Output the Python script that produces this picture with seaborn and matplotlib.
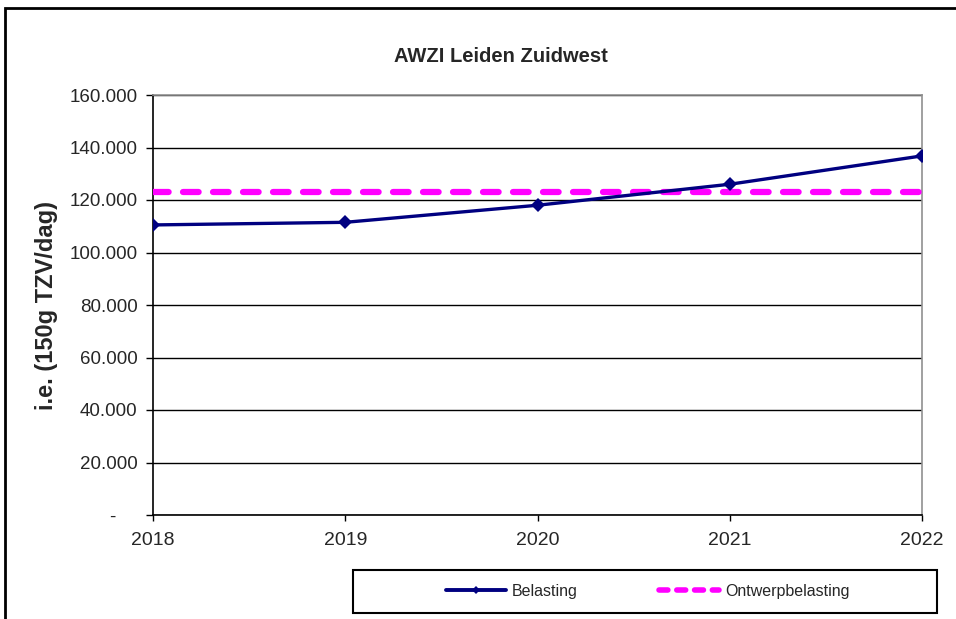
import matplotlib
matplotlib.use("Agg")
import matplotlib.pyplot as plt
import matplotlib.ticker as mticker
from matplotlib.patches import Rectangle
from matplotlib.lines import Line2D
import seaborn as sns
import pandas as pd

# data
jaren = [2018, 2019, 2020, 2021, 2022]
belasting = [110500, 111500, 118000, 126000, 136800]
ontwerpbelasting = [123000, 123000, 123000, 123000, 123000]

titel = "AWZI Leiden Zuidwest"
y_label = "i.e. (150g TZV/dag)"

sns.set_theme(style="white")
plt.rcParams['font.family'] = ['Liberation Sans', 'DejaVu Sans']

df = pd.DataFrame({"jaar": jaren, "Belasting": belasting, "Ontwerpbelasting": ontwerpbelasting})

fig = plt.figure(figsize=(9.56, 6.19), dpi=100)
ax = fig.add_axes([153 / 956, 1 - 515 / 619, (922 - 153) / 956, (515 - 95) / 619])

# ontwerp line (dashed magenta)
sns.lineplot(data=df, x="jaar", y="Ontwerpbelasting", ax=ax, color="#FF00FF",
             linewidth=4.5, dashes=False, zorder=3)
ax.lines[-1].set_dashes((2.5, 2.3))
ax.lines[-1].set_dash_capstyle("round")

# belasting line with diamonds
sns.lineplot(data=df, x="jaar", y="Belasting", ax=ax, color="#000080",
             linewidth=2.4, marker="D", markersize=7, markeredgewidth=0, zorder=4)

ax.set_xlim(2018, 2022)
ax.set_ylim(0, 160000)
ax.set_xticks(jaren)
ax.set_yticks(range(0, 160001, 20000))


def fmt(v, pos):
    # excel style: zero shown as a dash, a bit away from the axis
    if v == 0:
        return "-    "
    return f"{int(v):,}".replace(",", ".")


ax.yaxis.set_major_formatter(mticker.FuncFormatter(fmt))
ax.grid(axis="y", color="black", linewidth=1)
ax.set_axisbelow(True)

ax.spines["left"].set_color("black")
ax.spines["bottom"].set_color("black")
ax.spines["top"].set_color("#909090")
ax.spines["right"].set_color("#909090")
for s in ax.spines.values():
    s.set_linewidth(1.2)

ax.tick_params(axis="y", direction="out", length=5, width=1, color="black",
               labelsize=13.5, pad=6, left=True)
ax.tick_params(axis="x", direction="out", length=4, width=1, color="black",
               labelsize=14, pad=8, bottom=True)

ax.set_xlabel("")
ax.set_ylabel(y_label, fontsize=17, fontweight="bold", labelpad=4)
ax.yaxis.set_label_coords(-0.123, 0.5)

fig.text(0.5 * (378 + 624) / 956, 1 - 57 / 619, titel, ha="center", va="center",
         fontsize=14.5, fontweight="bold")

# legend box drawn by hand, legend itself without frame
fig.patches.append(Rectangle((353 / 956, 1 - 613 / 619), (937 - 353) / 956, 43 / 619,
                             transform=fig.transFigure, fill=False, edgecolor="black",
                             linewidth=1.5))
handles = [
    Line2D([], [], color="#000080", linewidth=2.8, marker="D", markersize=4, markeredgewidth=0),
    Line2D([], [], color="#FF00FF", linewidth=4.0, dashes=(1.6, 1.6), dash_capstyle="round"),
]
fig.legend(handles, ["Belasting", "Ontwerpbelasting"], loc="center",
           bbox_to_anchor=(648 / 956, 1 - 591.5 / 619), ncol=2, frameon=False,
           fontsize=11.5, handlelength=3.75, handletextpad=0.4, columnspacing=5.1)

# outer border (only left and top visible in the crop)
fig.patches.append(Rectangle((5 / 956, -0.2), 2, 1.2 - 8 / 619,
                             transform=fig.transFigure, fill=False, edgecolor="black",
                             linewidth=2))

fig.savefig("out.png", dpi=100)
